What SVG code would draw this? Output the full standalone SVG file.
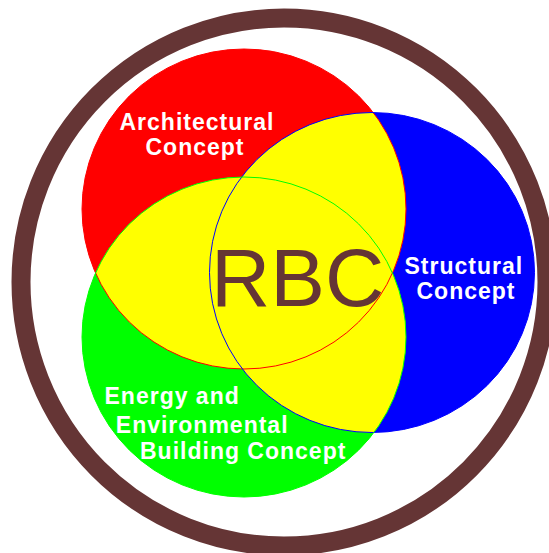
<svg xmlns="http://www.w3.org/2000/svg" xmlns:xlink="http://www.w3.org/1999/xlink" width="549" height="553" viewBox="0 0 549 553">
<style>
.lbl{font-family:"Liberation Sans",Arial,sans-serif;font-weight:bold;font-size:23px;fill:#ffffff;letter-spacing:1px}
.rbc{font-family:"Liberation Sans",Arial,sans-serif;font-size:82px;fill:#653535}
.yel{fill:#ffff00}
</style>
<defs>
<ellipse id="eRed" cx="244" cy="209" rx="162" ry="160"/>
<ellipse id="eBlue" cx="372" cy="272.5" rx="162.5" ry="160"/>
<ellipse id="eGreen" cx="244" cy="337" rx="162" ry="160"/>
<clipPath id="cRed"><use xlink:href="#eRed"/></clipPath>
<clipPath id="cBlue"><use xlink:href="#eBlue"/></clipPath>
</defs>
<rect width="549" height="553" fill="#ffffff"/>
<g id="ring">
<ellipse cx="284" cy="282" rx="263" ry="264" fill="none" stroke="#653535" stroke-width="19"/>
</g>
<g id="architectural">
<use xlink:href="#eRed" fill="#ff0000"/>
</g>
<g id="structural">
<use xlink:href="#eBlue" fill="#0000ff"/>
</g>
<g id="energy">
<use xlink:href="#eGreen" fill="#00ff00"/>
</g>
<g id="overlaps">
<use xlink:href="#eBlue" class="yel" clip-path="url(#cRed)"/>
<use xlink:href="#eGreen" class="yel" clip-path="url(#cRed)"/>
<use xlink:href="#eGreen" class="yel" clip-path="url(#cBlue)"/>
<use xlink:href="#eRed" fill="none" stroke="#ff0000" stroke-width="1"/>
<use xlink:href="#eBlue" fill="none" stroke="#0000ff" stroke-width="1"/>
<use xlink:href="#eGreen" fill="none" stroke="#00ff00" stroke-width="1"/>
</g>
<g id="connectors"></g>
<g id="labels">
<text class="lbl" x="119.5" y="130">Architectural</text>
<text class="lbl" x="145.5" y="155">Concept</text>
<text class="lbl" x="404.5" y="274">Structural</text>
<text class="lbl" x="416.5" y="299.3">Concept</text>
<text class="lbl" x="104.5" y="404">Energy and</text>
<text class="lbl" x="115.8" y="432.7">Environmental</text>
<text class="lbl" x="140" y="459.3">Building Concept</text>
</g>
<g id="rbc">
<text class="rbc" x="211" y="305.5">RBC</text>
</g>
</svg>
